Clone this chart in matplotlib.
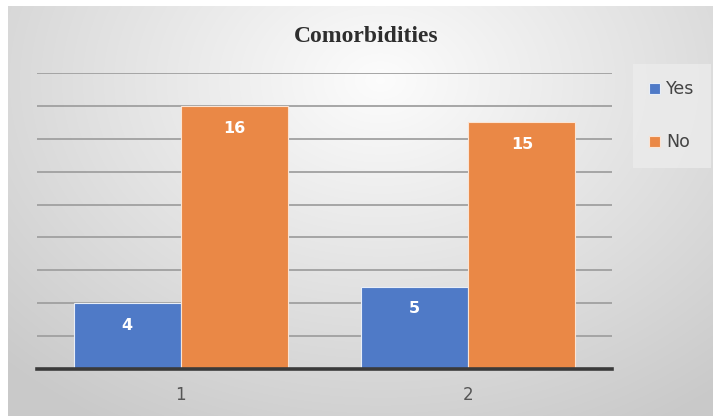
import numpy as np
import matplotlib.pyplot as plt

categories = ["1", "2"]
yes_vals = [4, 5]
no_vals = [16, 15]

W, H = 713, 416
fig = plt.figure(figsize=(W / 100, H / 100), dpi=100)

# soft radial gray backdrop
bg = fig.add_axes([0, 0, 1, 1])
yy, xx = np.mgrid[0:H, 0:W]
r = np.sqrt(((xx - 380) / 560.0) ** 2 + ((yy - 80) / 420.0) ** 2)
shade = np.clip(0.99 - 0.21 * r, 0.79, 1.0)
img = np.dstack([shade] * 3)
img[:6, :, :] = 1.0
img[:, :8, :] = 1.0
bg.imshow(img, aspect="auto", extent=[0, W, H, 0])
bg.set_xlim(0, W)
bg.set_ylim(H, 0)
bg.axis("off")

ax = fig.add_axes([37 / W, (H - 369) / H, 575 / W, (369 - 73) / H])
ax.set_facecolor("none")

x = np.arange(len(categories))
w = 0.373
b1 = ax.bar(x - w / 2, yes_vals, w, color="#4f7ac7", edgecolor="#e8eef8",
            linewidth=0.8, label="Yes", zorder=3)
b2 = ax.bar(x + w / 2, no_vals, w, color="#ea8846", edgecolor="#fbe4d4",
            linewidth=0.8, label="No", zorder=3)

for bars in (b1, b2):
    for rect in bars:
        h = rect.get_height()
        ax.text(rect.get_x() + rect.get_width() / 2, h - 1.35, f"{int(h)}",
                ha="center", va="center", color="white", fontsize=11.5,
                fontweight="bold", zorder=4)

ax.set_xlim(-0.5, 1.5)
ax.set_ylim(0, 18)
ax.set_yticks(np.arange(2, 19, 2))
ax.yaxis.grid(True, color="#a0a0a0", linewidth=1.3, zorder=1)
ax.set_yticklabels([])
ax.tick_params(axis="y", length=0)
ax.set_xticks(x)
ax.set_xticklabels(categories, fontsize=12, color="#555555")
ax.tick_params(axis="x", length=0, pad=12)
for s in ["top", "right", "left"]:
    ax.spines[s].set_visible(False)
ax.spines["bottom"].set_color("#3a3a3a")
ax.spines["bottom"].set_linewidth(2.6)
ax.spines["bottom"].set_zorder(5)

fig.text(366 / W, 1 - 37 / H, "Comorbidities", ha="center", va="center",
         fontsize=17, fontweight="bold", family="Liberation Serif",
         color="#2e2e2e")

leg = ax.legend(loc="upper left", bbox_to_anchor=(633 / W, 1 - 64 / H),
                bbox_transform=fig.transFigure, fontsize=12.5, frameon=True,
                handlelength=0.6, handleheight=0.6, handletextpad=0.35,
                labelspacing=2.0, borderpad=0.95, borderaxespad=0,
                fancybox=False)
leg.get_frame().set_facecolor("#ececec")
leg.get_frame().set_edgecolor("none")
for t in leg.get_texts():
    t.set_color("#444444")

fig.savefig("out.png", dpi=100)
